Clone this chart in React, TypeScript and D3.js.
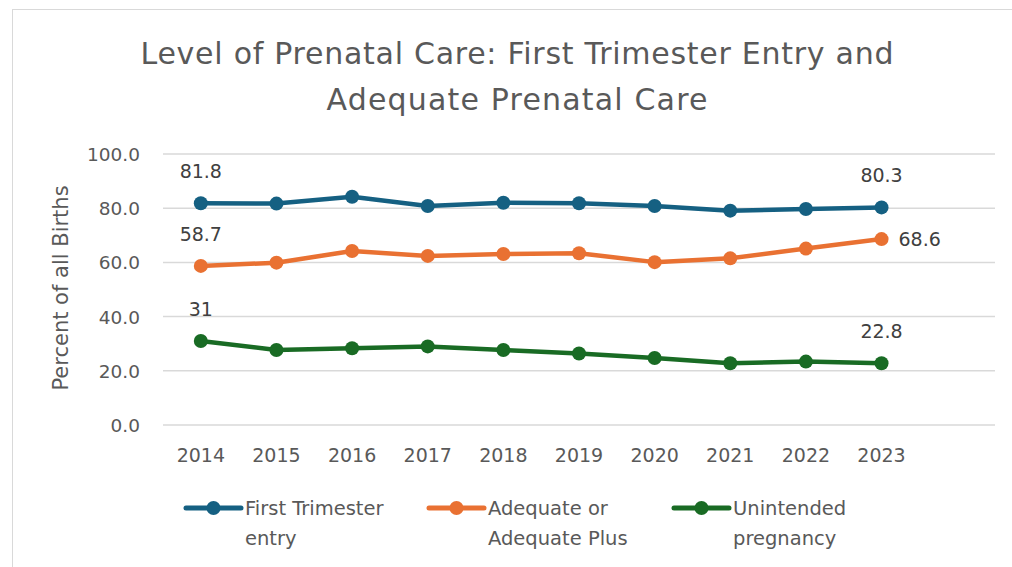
import React from 'react';
import * as d3 from 'd3';

const years = ['2014', '2015', '2016', '2017', '2018', '2019', '2020', '2021', '2022', '2023', ''];
const firstTrimester = [81.8, 81.7, 84.2, 80.8, 82.0, 81.8, 80.8, 79.1, 79.7, 80.3];
const adequate = [58.7, 59.9, 64.2, 62.4, 63.1, 63.4, 60.1, 61.5, 65.1, 68.6];
const unintended = [31, 27.7, 28.3, 29.0, 27.7, 26.4, 24.7, 22.8, 23.4, 22.8];
const yTicks = [0, 20, 40, 60, 80, 100];

const series = [
  { name: ['First Trimester', 'entry'], values: firstTrimester, color: '#156082', labels: ['81.8', '80.3'], lastRight: false },
  { name: ['Adequate or', 'Adequate Plus'], values: adequate, color: '#E97132', labels: ['58.7', '68.6'], lastRight: true },
  { name: ['Unintended', 'pregnancy'], values: unintended, color: '#196B24', labels: ['31', '22.8'], lastRight: false },
];

const FONT = '"DejaVu Sans", sans-serif';
const TEXT = '#595959';

export default function App() {
  const width = 1012;
  const height = 567;
  const margin = { top: 154, right: 17, bottom: 142, left: 163 };

  const x = d3.scaleBand<string>()
    .domain(years)
    .range([margin.left, width - margin.right]);
  const y = d3.scaleLinear()
    .domain([0, 100])
    .range([height - margin.bottom, margin.top]);
  const cx = (i: number) => (x(years[i]) as number) + x.bandwidth() / 2;

  const line = d3.line<number>()
    .x((_, i) => cx(i))
    .y(d => y(d));

  // legend: marker start positions
  const legendX = [186, 429, 674];

  return (
    <svg width={width} height={height} style={{ position: 'absolute', left: 0, top: 0, background: '#fff' }} fontFamily={FONT}>
      <rect x={12.5} y={9.5} width={1010} height={570} fill="#fff" stroke="#d9d9d9" />
      {/* Title */}
      <text x={517} y={64} textAnchor="middle" fontSize={30} fill={TEXT} textLength={753} lengthAdjust="spacing">
        Level of Prenatal Care: First Trimester Entry and
      </text>
      <text x={517} y={110} textAnchor="middle" fontSize={30} fill={TEXT} textLength={381} lengthAdjust="spacing">
        Adequate Prenatal Care
      </text>

      {/* Gridlines and y ticks */}
      {yTicks.map(t => (
        <g key={t}>
          <line x1={margin.left} x2={width - margin.right} y1={y(t)} y2={y(t)} stroke="#d9d9d9" strokeWidth={1.5} />
          <text x={140} y={y(t) + 7} textAnchor="end" fontSize={18.5} fill={TEXT}>{t.toFixed(1)}</text>
        </g>
      ))}

      {/* x labels */}
      {years.filter(yr => yr).map((yr, i) => (
        <text key={yr} x={cx(i)} y={462} textAnchor="middle" fontSize={19} fill={TEXT}>{yr}</text>
      ))}

      {/* Y axis title */}
      <text x={0} y={0} transform={`translate(68,288) rotate(-90)`} textAnchor="middle" fontSize={21} fill={TEXT}>
        Percent of all Births
      </text>

      {/* Series */}
      {series.map(s => {
        const last = s.values.length - 1;
        return (
          <g key={s.name[0]}>
            <path d={line(s.values) || ''} fill="none" stroke={s.color} strokeWidth={4.5} strokeLinejoin="round" />
            {s.values.map((v, i) => (
              <circle key={i} cx={cx(i)} cy={y(v)} r={7} fill={s.color} />
            ))}
            <text x={cx(0)} y={y(s.values[0]) - 25} textAnchor="middle" fontSize={19} fill="#404040">{s.labels[0]}</text>
            {s.lastRight ? (
              <text x={cx(last) + 17} y={y(s.values[last]) + 7} textAnchor="start" fontSize={19} fill="#404040">{s.labels[1]}</text>
            ) : (
              <text x={cx(last)} y={y(s.values[last]) - 25} textAnchor="middle" fontSize={19} fill="#404040">{s.labels[1]}</text>
            )}
          </g>
        );
      })}

      {/* Legend */}
      {series.map((s, i) => (
        <g key={s.name[0]} transform={`translate(${legendX[i]},508)`}>
          <line x1={0} x2={55} y1={0} y2={0} stroke={s.color} strokeWidth={5} strokeLinecap="round" />
          <circle cx={27.5} cy={0} r={7} fill={s.color} />
          <text x={59} y={7} fontSize={19.5} fill={TEXT}>{s.name[0]}</text>
          <text x={59} y={37} fontSize={19.5} fill={TEXT}>{s.name[1]}</text>
        </g>
      ))}
    </svg>
  );
}
